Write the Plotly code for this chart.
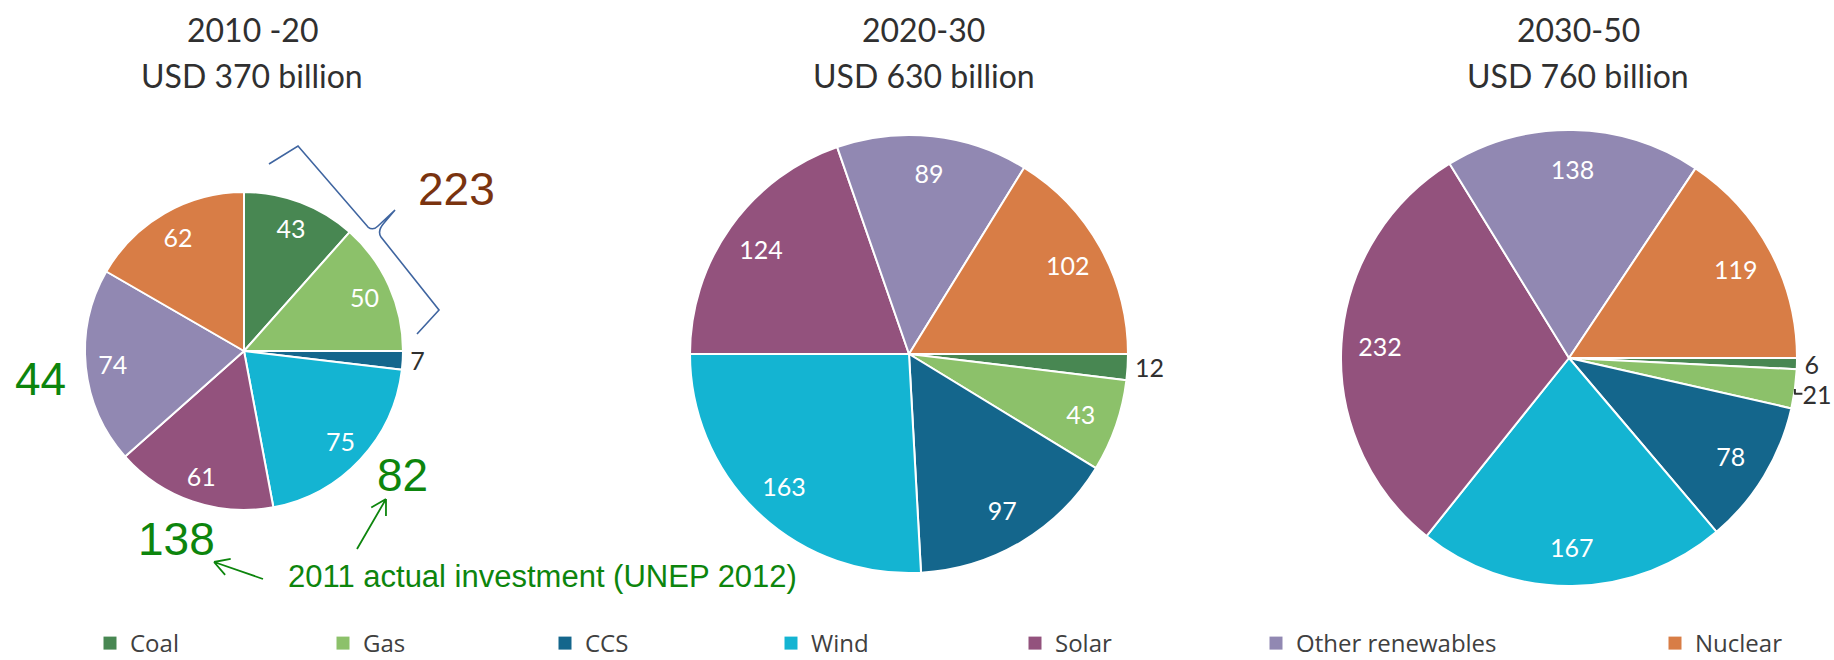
import math
import plotly.graph_objects as go

# ---------------- data ----------------
categories = ["Coal", "Gas", "CCS", "Wind", "Solar", "Other renewables", "Nuclear"]
values_2010_20 = [43, 50, 7, 75, 61, 74, 62]
values_2020_30 = [12, 43, 97, 163, 124, 89, 102]
values_2030_50 = [6, 21, 78, 167, 232, 138, 119]
period_labels = ["2010 -20", "2020-30", "2030-50"]
total_labels = ["USD 370 billion", "USD 630 billion", "USD 760 billion"]
unep_numbers = ["223", "44", "82", "138"]
unep_note = "2011 actual investment (UNEP 2012)"

# ---------------- style ----------------
colors = ["#488752", "#8cc16a", "#14668c", "#14b4d2", "#93527d", "#9188b2", "#d87d46"]
W, H = 1834, 660
FONT = "Lato"
LEGFONT = "Open Sans"
ARIAL = "Liberation Sans, Arial"
GREEN = "#0d850d"
BROWN = "#7a330f"
BLUE = "#3f65a0"
TXT = "#303030"

def dom(cx, cy, r):
    return dict(x=[(cx - r) / W, (cx + r) / W], y=[1 - (cy + r) / H, 1 - (cy - r) / H])

def px(x, y):
    return x / W, 1 - y / H

def path_from(points):
    out = ""
    for seg in points:
        cmd, coords = seg[0], seg[1:]
        parts = []
        for j in range(0, len(coords), 2):
            a, b = px(coords[j], coords[j + 1])
            parts.append(f"{a:.5f},{b:.5f}")
        out += cmd + " ".join(parts) + " "
    return out.strip()

pie_geom = [(244, 351, 159), (909, 354, 219), (1569, 358, 228)]
pie_rot = [0, 90, 90]
title_x = [252, 924, 1578]

fig = go.Figure()
for vals, (cx, cy, r), rot in zip([values_2010_20, values_2020_30, values_2030_50], pie_geom, pie_rot):
    tot = sum(vals)
    tpos = ["outside" if v / tot < 0.03 else "inside" for v in vals]
    # coloured slices
    fig.add_trace(go.Pie(
        labels=categories, values=vals, sort=False, direction="clockwise", rotation=rot,
        domain=dom(cx, cy, r), marker=dict(colors=colors, line=dict(color="white", width=2)),
        textinfo="none", showlegend=False, hoverinfo="label+value",
    ))
    # value labels (transparent ring so labels sit near the rim, like the original)
    fig.add_trace(go.Pie(
        labels=categories, values=vals, sort=False, direction="clockwise", rotation=rot,
        domain=dom(cx, cy, r), hole=0.66,
        marker=dict(colors=["rgba(0,0,0,0)"] * len(vals), line=dict(width=0)),
        texttemplate="%{value}", textposition=tpos, insidetextorientation="horizontal",
        insidetextfont=dict(family=FONT, size=25, color="white"),
        outsidetextfont=dict(family=FONT, size=25, color=TXT),
        showlegend=False, hoverinfo="skip",
    ))

# legend entries (one legend per entry for Excel-like spacing)
legend_marker_cx = [110, 343, 565, 791, 1035, 1276, 1675]
for i, (cat, col) in enumerate(zip(categories, colors)):
    lname = "legend" if i == 0 else f"legend{i+1}"
    fig.add_trace(go.Scatter(
        x=[None], y=[None], mode="markers", name=cat,
        marker=dict(symbol="square", size=13, color=col),
        legend=lname, showlegend=True,
    ))

legends = {}
for i, cx in enumerate(legend_marker_cx):
    lname = "legend" if i == 0 else f"legend{i+1}"
    legends[lname] = dict(
        x=(cx - 20) / W, y=-6 / H, xanchor="left", yanchor="bottom",
        orientation="h", bgcolor="rgba(0,0,0,0)", borderwidth=0,
        font=dict(family=LEGFONT, size=24, color="#404040"),
    )

annotations = []
for i in range(3):
    for txt, yy in [(period_labels[i], 29), (total_labels[i], 75)]:
        x, y = px(title_x[i], yy)
        annotations.append(dict(x=x, y=y, xref="paper", yref="paper", text=txt,
                                showarrow=False, font=dict(family=FONT, size=32, color=TXT),
                                xanchor="center", yanchor="middle"))

num_pos = [(456, 189, BROWN), (40, 379, GREEN), (402, 475, GREEN), (176, 539, GREEN)]
for t, (x0, y0, c) in zip(unep_numbers, num_pos):
    x, y = px(x0, y0)
    annotations.append(dict(x=x, y=y, xref="paper", yref="paper", text=t, showarrow=False,
                            font=dict(family=ARIAL, size=46, color=c),
                            xanchor="center", yanchor="middle"))

x, y = px(542, 576)
annotations.append(dict(x=x, y=y, xref="paper", yref="paper", text=unep_note, showarrow=False,
                        font=dict(family=ARIAL, size=31, color=GREEN),
                        xanchor="center", yanchor="middle"))

shapes = []
# green arrows (tail -> head) with open chevron heads
for (hx, hy, tx, ty) in [(214, 562, 263, 579), (386, 499, 357, 549)]:
    dx, dy = tx - hx, ty - hy
    L = math.hypot(dx, dy)
    ux, uy = dx / L, dy / L
    pts = [("M", tx, ty), ("L", hx, hy)]
    for s in (1, -1):
        a = math.radians(30) * s
        ex = hx + 17 * (ux * math.cos(a) - uy * math.sin(a))
        ey = hy + 17 * (ux * math.sin(a) + uy * math.cos(a))
        pts += [("M", hx, hy), ("L", ex, ey)]
    shapes.append(dict(type="path", xref="paper", yref="paper", path=path_from(pts),
                       line=dict(color=GREEN, width=1.8)))

# curly brace
brace_pts = [("M", 269, 164), ("L", 298, 146), ("L", 368, 227), ("Q", 373, 231, 378, 226),
             ("L", 395, 210), ("L", 384, 223), ("Q", 377, 231, 381, 237),
             ("L", 439, 310), ("L", 417, 334)]
shapes.append(dict(type="path", xref="paper", yref="paper", path=path_from(brace_pts),
                   line=dict(color=BLUE, width=1.6)))

fig.update_layout(
    width=W, height=H, margin=dict(l=0, r=0, t=0, b=0, autoexpand=False),
    paper_bgcolor="white", plot_bgcolor="white",
    xaxis=dict(visible=False), yaxis=dict(visible=False),
    annotations=annotations, shapes=shapes,
    **legends,
)

fig.write_html("out.html")
